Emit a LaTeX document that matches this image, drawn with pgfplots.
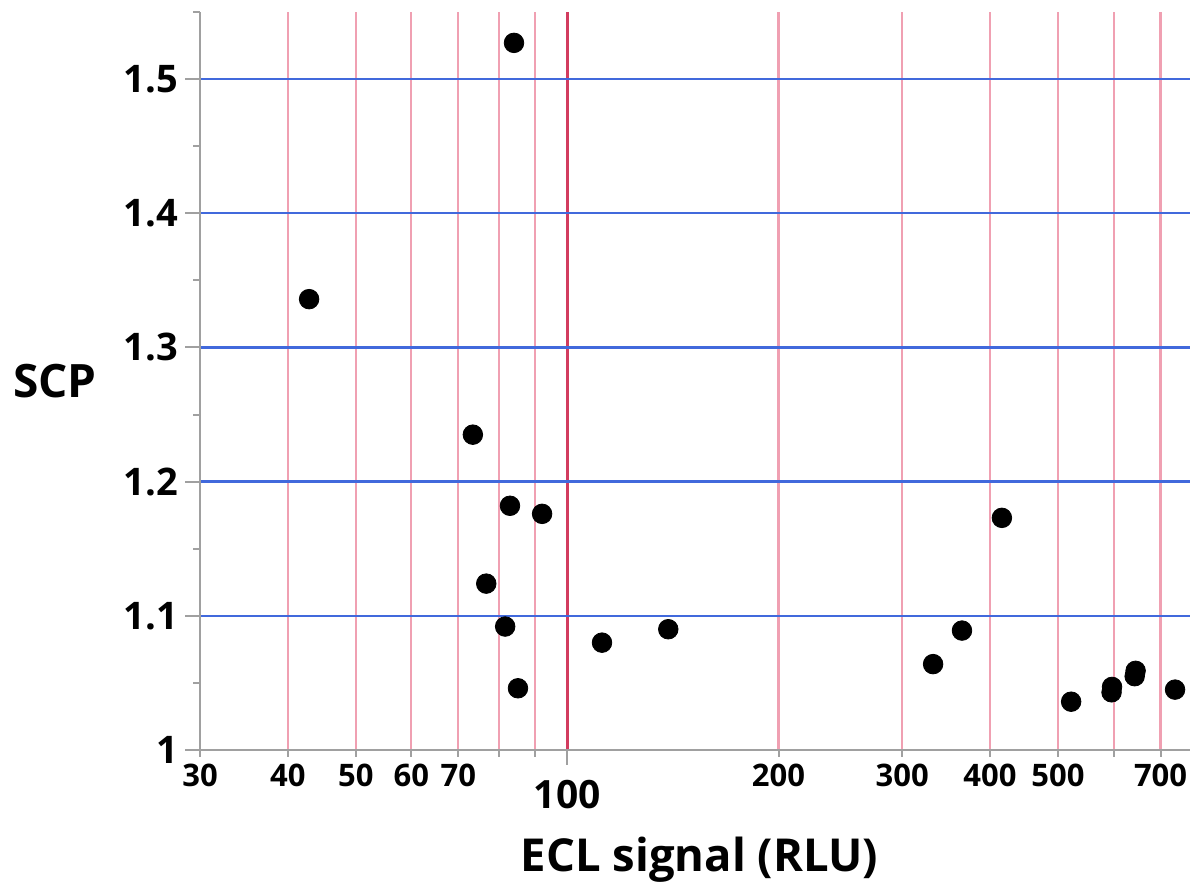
\documentclass[border=0pt]{standalone}
\usepackage{fontspec}
\setmainfont{Open Sans}
\usepackage{pgfplots}
\pgfplotsset{compat=1.18}
\definecolor{gridpink}{RGB}{240,160,178}
\definecolor{gridred}{RGB}{210,60,95}
\definecolor{gridblue}{RGB}{65,105,220}
\definecolor{axgray}{RGB}{160,160,160}
\begin{document}
\begin{tikzpicture}
\begin{axis}[
 scale only axis, width=495pt, height=369pt,
 xmode=log, xmin=30, xmax=771, ymin=1, ymax=1.55,
 axis x line=bottom, axis y line=left,
 axis line style={axgray, line width=1pt, -},
 tick align=outside,
 tick style={axgray, line width=1pt},
 major tick length=7.5pt, minor tick length=3.5pt,
 /pgf/number format/assume math mode=true,
 xtick={100}, xticklabels={100},
 xticklabel style={font=\bfseries\fontsize{19.5}{20}\selectfont, yshift=-4pt},
 minor xtick={40,50,60,70,80,90,200,300,400,500,600,700},
 extra x ticks={30,40,50,60,70,200,300,400,500,700},
 extra x tick labels={30,40,50,60,70,200,300,400,500,700},
 extra x tick style={grid=none, major tick length=3.5pt,
   xticklabel style={font=\bfseries\fontsize{15.5}{16}\selectfont, yshift=4pt}},
 ytick={1.1,1.2,1.3,1.4,1.5},
 yticklabels={1.1,1.2,1.3,1.4,1.5},
 extra y ticks={1}, extra y tick labels={1},
 extra y tick style={grid=none},
 minor ytick={1.05,1.15,1.25,1.35,1.45,1.55},
 yticklabel style={font=\bfseries\fontsize{19}{20}\selectfont},
 xmajorgrids, xminorgrids, ymajorgrids,
 major x grid style={gridred, line width=1.5pt},
 minor x grid style={gridpink, line width=1.1pt},
 major y grid style={gridblue, line width=1.2pt},
 xlabel={ECL signal (RLU)},
 xlabel style={font=\bfseries\fontsize{22.7}{24}\selectfont, at={(axis description cs:0.5045,-0.1653)}, anchor=base},
 ylabel={SCP},
 ylabel style={font=\bfseries\fontsize{23}{24}\selectfont, rotate=-90, anchor=center, at={(axis description cs:-0.1465,0.5)}},
]
\addplot[only marks, mark=*, mark size=4.9pt, black] table {
x y
42.9 1.336
84.0 1.527
73.4 1.235
82.9 1.182
92.1 1.176
76.7 1.124
81.6 1.092
85.1 1.046
112.1 1.080
139.3 1.090
332 1.064
365 1.089
416 1.173
522 1.036
596 1.043
597 1.047
643 1.055
645 1.059
734 1.045
};
\end{axis}
\pgfresetboundingbox
\path (-100pt,-66.5pt) rectangle (495pt,375pt);
\end{tikzpicture}
\end{document}
